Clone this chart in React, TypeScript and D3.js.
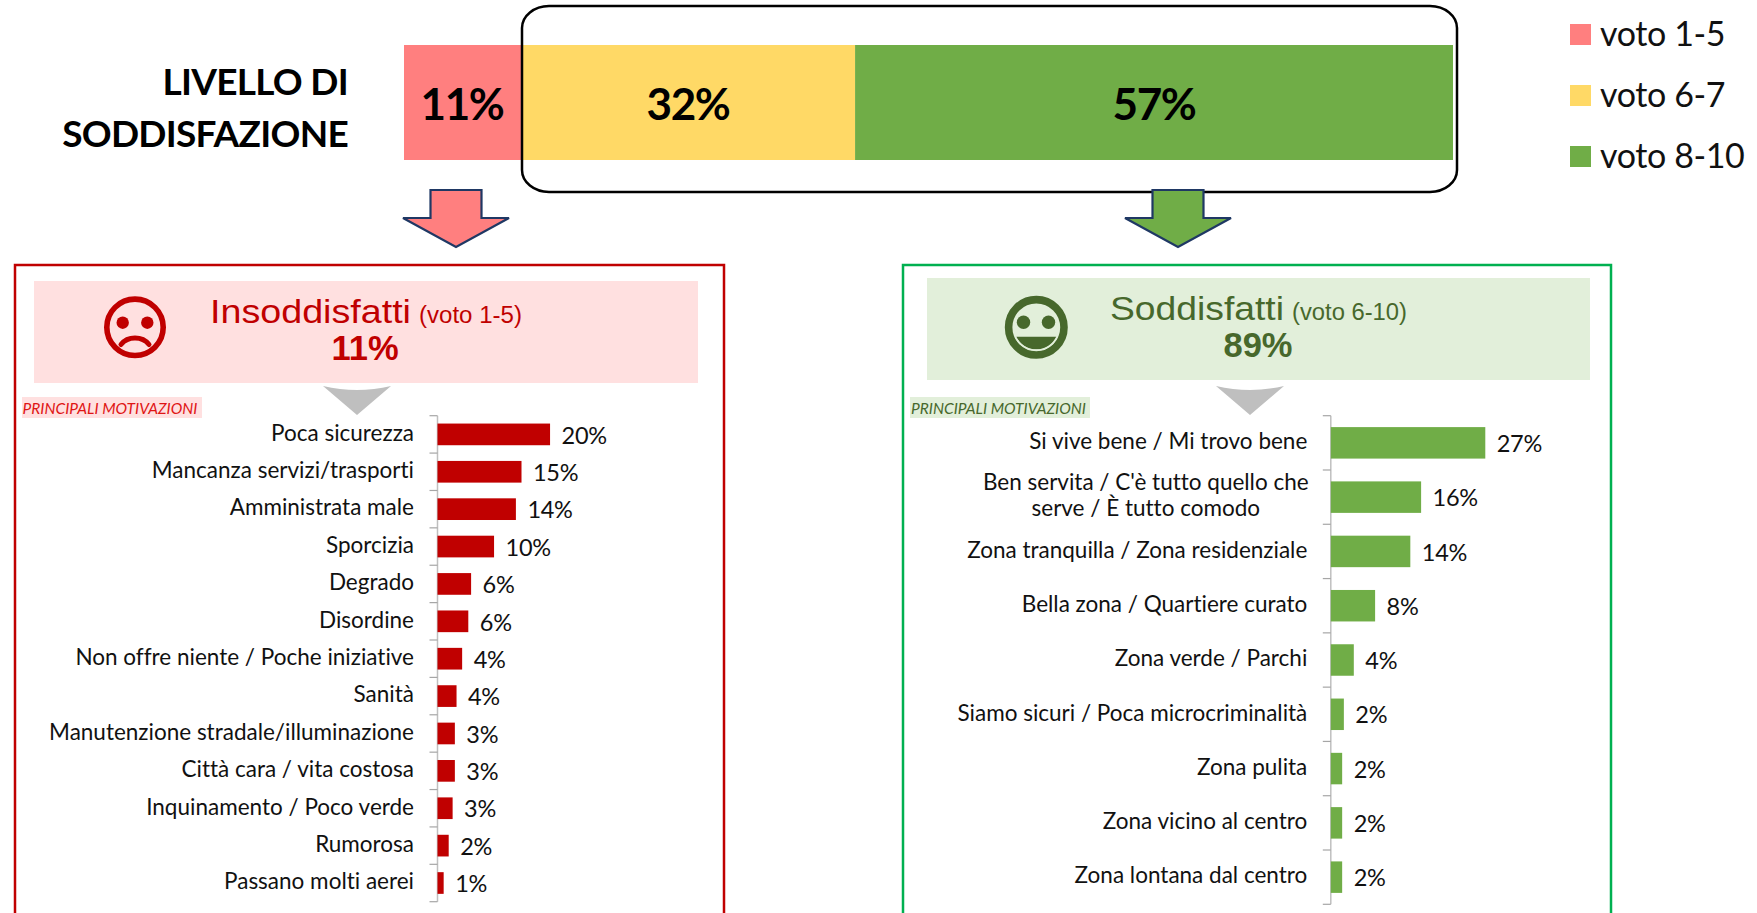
import React from "react";
import * as d3 from "d3";

const stackLabels = ["voto 1-5", "voto 6-7", "voto 8-10"];
const stackValues = [11.25, 31.75, 57];
const stackTexts = ["11%", "32%", "57%"];
const stackColors = ["#FF7F7F", "#FFD966", "#70AD47"];

const redCategories = ["Poca sicurezza", "Mancanza servizi/trasporti", "Amministrata male", "Sporcizia", "Degrado", "Disordine", "Non offre niente / Poche iniziative", "Sanità", "Manutenzione stradale/illuminazione", "Città cara / vita costosa", "Inquinamento / Poco verde", "Rumorosa", "Passano molti aerei"];
const redValues = [20.1, 15, 14, 10.1, 6, 5.5, 4.4, 3.4, 3.1, 3.1, 2.7, 2, 1.1];
const redLabels = ["20%", "15%", "14%", "10%", "6%", "6%", "4%", "4%", "3%", "3%", "3%", "2%", "1%"];

const greenCategories = ["Si vive bene / Mi trovo bene", "Ben servita / C'è tutto quello che|serve / È tutto comodo", "Zona tranquilla / Zona residenziale", "Bella zona / Quartiere curato", "Zona verde / Parchi", "Siamo sicuri / Poca microcriminalità", "Zona pulita", "Zona vicino al centro", "Zona lontana dal centro"];
const greenValues = [27.2, 15.9, 14, 7.8, 4.05, 2.3, 2, 2, 2];
const greenLabels = ["27%", "16%", "14%", "8%", "4%", "2%", "2%", "2%", "2%"];

const F = "Lato, Carlito, sans-serif";
const A = "'Liberation Sans', Arial, sans-serif";

function BarPanel({ cats, vals, labels, color, x0, pxPerPct, top, bottom, fs, lfs }: any) {
  const y = d3.scaleBand<number>().domain(cats.map((_: string, i: number) => i)).range([top, bottom]).paddingInner(0.42).paddingOuter(0.21);
  const x = d3.scaleLinear().domain([0, 10]).range([x0, x0 + pxPerPct * 10]);
  const edges = d3.range(cats.length + 1).map((i) => top + (bottom - top) * i / cats.length);
  return (
    <g>
      <line x1={x0} x2={x0} y1={top} y2={bottom} stroke="#BFBFBF" strokeWidth={1.5} />
      {edges.map((e, i) => <line key={i} x1={x0 - 8} x2={x0} y1={e} y2={e} stroke="#A6A6A6" strokeWidth={1.2} />)}
      {cats.map((c: string, i: number) => {
        const cy = (y(i) as number) + y.bandwidth() / 2;
        const lines = c.split("|");
        const xr = x0 - 23.5;
        return (
          <g key={c}>
            <rect x={x0} y={y(i)} width={x(vals[i]) - x0} height={y.bandwidth()} fill={color} />
            {lines.length === 1 ? (
              <text x={xr} y={cy + 6.3} textAnchor="end" fontFamily={F} fontSize={fs} fill="#111" style={{ fontVariantLigatures: "none" }}>{c}</text>
            ) : (
              <text fontFamily={F} fontSize={fs} fill="#111" textAnchor="middle" style={{ fontVariantLigatures: "none" }}>
                <tspan x={xr - 161.5} y={cy - 7.2}>{lines[0]}</tspan>
                <tspan x={xr - 161.5} y={cy + 19.3}>{lines[1]}</tspan>
              </text>
            )}
            <text x={x(vals[i]) + 11.5} y={cy + 9.2} fontFamily={F} fontSize={lfs} letterSpacing={-0.3} fill="#111">{labels[i]}</text>
          </g>
        );
      })}
    </g>
  );
}

function Arrow({ cx, fill }: { cx: number; fill: string }) {
  const path = d3.path();
  path.moveTo(cx - 25.5, 190);
  path.lineTo(cx + 25.5, 190);
  path.lineTo(cx + 25.5, 218);
  path.lineTo(cx + 53, 218);
  path.lineTo(cx, 247);
  path.lineTo(cx - 53, 218);
  path.lineTo(cx - 25.5, 218);
  path.closePath();
  return <path d={path.toString()} fill={fill} stroke="#1F3864" strokeWidth={2.2} />;
}

function Chevron({ cx }: { cx: number }) {
  return <path d={`M${cx - 34} 386 Q${cx} 394 ${cx + 34} 386 L${cx} 415 Z`} fill="#BFBFBF" />;
}

export default function App() {
  const sx = d3.scaleLinear().domain([0, 100]).range([404, 1453]);
  const cum = d3.cumsum(stackValues);
  const lblX = [462, 688, 1154];
  const red = "#C00000";
  const dkg = "#47682C";
  return (
    <svg width={1757} height={913} style={{ position: "absolute", left: 0, top: 0, display: "block", background: "#fff" }}>
      {stackValues.map((v, i) => (
        <g key={i}>
          <rect x={sx(cum[i] - v)} y={45} width={sx(cum[i]) - sx(cum[i] - v)} height={115} fill={stackColors[i]} />
          <text x={lblX[i]} y={119.5} textAnchor="middle" fontFamily={F} fontWeight={700} fontSize={44} letterSpacing={-1.4} fill="#000">{stackTexts[i]}</text>
        </g>
      ))}
      <rect x={522} y={6} width={935} height={186} rx={27} ry={22} fill="none" stroke="#000" strokeWidth={2.5} />
      <g fontFamily={F} fontWeight={700} fontSize={37} letterSpacing={-0.72} textAnchor="end" fill="#000">
        <text x={348} y={94.5}>LIVELLO DI</text>
        <text x={348} y={147}>SODDISFAZIONE</text>
      </g>
      {stackLabels.map((l, i) => (
        <g key={l}>
          <rect x={1570} y={24 + 61 * i} width={21} height={21} fill={stackColors[i]} />
          <text x={1600} y={46 + 61 * i} fontFamily={F} fontSize={34} letterSpacing={-0.4} fill="#111">{l}</text>
        </g>
      ))}
      <Arrow cx={456} fill="#FF7F7F" />
      <Arrow cx={1178} fill="#70AD47" />

      <rect x={15} y={265} width={709} height={700} fill="none" stroke={red} strokeWidth={2.5} />
      <rect x={34} y={281} width={664} height={102} fill="#FFE0E0" />
      <circle cx={135} cy={327.3} r={28.2} fill="none" stroke={red} strokeWidth={5.6} />
      <circle cx={122.7} cy={322.7} r={6.2} fill={red} />
      <circle cx={147.3} cy={322.7} r={6.2} fill={red} />
      <path d="M121 344.5 A17 15 0 0 1 149 344.5" fill="none" stroke={red} strokeWidth={5} strokeLinecap="round" />
      <text x={210} y={323} fontFamily={A} fontSize={34} textLength={201} lengthAdjust="spacingAndGlyphs" fill={red}>Insoddisfatti</text>
      <text x={419} y={322.5} fontFamily={A} fontSize={23} textLength={103} lengthAdjust="spacingAndGlyphs" fill={red}>(voto 1-5)</text>
      <text x={365} y={360} textAnchor="middle" fontFamily={A} fontWeight={700} fontSize={34.5} fill={red}>11%</text>
      <Chevron cx={357} />
      <rect x={22} y={397} width={180} height={21} fill="#FFE0E0" />
      <text x={22.5} y={414} fontFamily={F} fontStyle="italic" fontSize={15.5} textLength={175} lengthAdjust="spacingAndGlyphs" fill="#E01515">PRINCIPALI MOTIVAZIONI</text>
      <BarPanel cats={redCategories} vals={redValues} labels={redLabels} color={red} x0={437.5} pxPerPct={5.6} top={415.7} bottom={901.7} fs={22.5} lfs={23.5} />

      <rect x={903} y={265} width={708} height={700} fill="none" stroke="#00B050" strokeWidth={2.5} />
      <rect x={927} y={278} width={663} height={102} fill="#E2EFDA" />
      <circle cx={1036.3} cy={327.3} r={27.7} fill="none" stroke={dkg} strokeWidth={7.6} />
      <circle cx={1023.5} cy={322.3} r={6.7} fill={dkg} />
      <circle cx={1048.5} cy={322.3} r={6.7} fill={dkg} />
      <path d="M1016.4 336.7 L1056.2 336.7 A22 22 0 0 1 1016.4 336.7 Z" fill={dkg} />
      <path d="M1015.2 336.7 A23.3 23.3 0 0 0 1057.4 336.7" fill="none" stroke="#E2EFDA" strokeWidth={1.4} />
      <text x={1110} y={320} fontFamily={A} fontSize={34} textLength={174} lengthAdjust="spacingAndGlyphs" fill={dkg}>Soddisfatti</text>
      <text x={1292} y={319.5} fontFamily={A} fontSize={23} textLength={115} lengthAdjust="spacingAndGlyphs" fill={dkg}>(voto 6-10)</text>
      <text x={1258} y={357} textAnchor="middle" fontFamily={A} fontWeight={700} fontSize={34.5} fill={dkg}>89%</text>
      <Chevron cx={1250} />
      <rect x={910} y={397} width={180} height={21} fill="#E2EFDA" />
      <text x={911} y={414} fontFamily={F} fontStyle="italic" fontSize={15.5} textLength={175} lengthAdjust="spacingAndGlyphs" fill={dkg}>PRINCIPALI MOTIVAZIONI</text>
      <BarPanel cats={greenCategories} vals={greenValues} labels={greenLabels} color="#70AD47" x0={1330.8} pxPerPct={5.68} top={415.7} bottom={904.3} fs={22.5} lfs={23.5} />
    </svg>
  );
}
